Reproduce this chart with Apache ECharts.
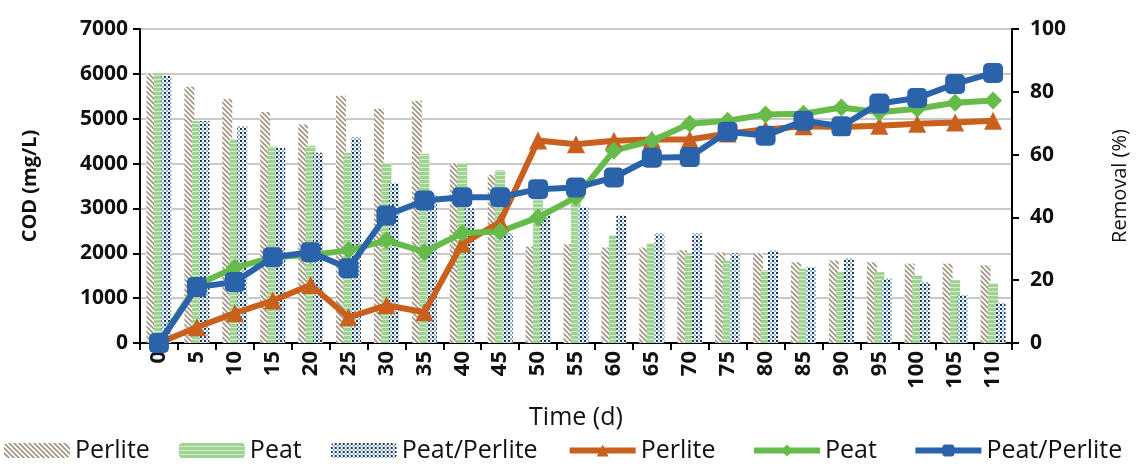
<!DOCTYPE html>
<html>
<head>
<meta charset="utf-8">
<script src="https://cdn.jsdelivr.net/npm/echarts@6/dist/echarts.min.js"></script>
<style>
  html, body { margin: 0; padding: 0; background: #fff; }
  #chart { width: 1141px; height: 469px; }
</style>
</head>
<body>
<div id="chart"></div>
<script>
// data
const days = ['0', '5', '10', '15', '20', '25', '30', '35', '40', '45', '50', '55',
  '60', '65', '70', '75', '80', '85', '90', '95', '100', '105', '110']

// COD (mg/L), bars
const codPerlite = [6000, 5710, 5440, 5150, 4870, 5510, 5220, 5400, 4000, 3750, 2150, 2200,
  2130, 2130, 2070, 2020, 2000, 1800, 1840, 1800, 1770, 1770, 1730]
const codPeat = [6000, 4950, 4550, 4380, 4400, 4240, 4020, 4220, 4020, 3850, 3180, 3350,
  2400, 2220, 2000, 1840, 1620, 1660, 1580, 1580, 1510, 1400, 1330]
const codPeatPerlite = [5950, 4950, 4840, 4350, 4240, 4580, 3560, 3300, 3000, 2440, 2950, 3020,
  2840, 2440, 2440, 2000, 2070, 1690, 1890, 1440, 1360, 1070, 890]

// Removal (%), lines
const remPerlite = [0, 5, 9.5, 13.5, 18.5, 8.2, 12, 9.8, 31.6, 38.5, 64.5, 63.3,
  64.4, 64.8, 64.8, 66.7, 68, 69, 68.8, 69.2, 69.8, 70.2, 70.8]
const remPeat = [0, 18.5, 24, 27.3, 28, 29.5, 32.7, 29, 35, 35.5, 40, 46.4,
  61.3, 64.4, 69.8, 70.8, 72.8, 73, 75, 73.5, 74.6, 76.5, 77.2]
const remPeatPerlite = [0, 17.8, 19.4, 27.3, 28.9, 23.8, 40.6, 45.4, 46.4, 46.4, 49, 49.5,
  52.7, 59, 59.2, 67.3, 66, 70.8, 69, 76.3, 78, 82.5, 86]

// bar fill patterns (Excel-like)
const makeTile = (w, h, draw) => {
  const c = document.createElement('canvas')
  c.width = w
  c.height = h
  const ctx = c.getContext('2d')
  ctx.fillStyle = '#fff'
  ctx.fillRect(0, 0, w, h)
  draw(ctx)
  return { image: c, repeat: 'repeat' }
}

const hatchFill = makeTile(5, 5, ctx => {
  ctx.strokeStyle = '#a39682'
  ctx.lineWidth = 1.7
  ctx.beginPath()
  ctx.moveTo(-1, -1); ctx.lineTo(6, 6)
  ctx.moveTo(-1, 4); ctx.lineTo(1, 6)
  ctx.moveTo(4, -1); ctx.lineTo(6, 1)
  ctx.stroke()
})

const stripeFill = makeTile(4, 4, ctx => {
  ctx.fillStyle = '#9fd391'
  ctx.fillRect(0, 0, 4, 3)
  ctx.fillStyle = '#d3ecca'
  ctx.fillRect(0, 3, 4, 1)
})

const dotFill = makeTile(4, 4, ctx => {
  ctx.fillStyle = '#1d3557'
  ctx.fillRect(0, 0, 2, 2)
  ctx.fillStyle = '#8ab8dc'
  ctx.fillRect(2, 2, 2, 2)
})

const orange = '#c9601d'
const green = '#66bb4a'
const blue = '#2b63ab'

const chart = echarts.init(document.getElementById('chart'))

const barSeries = (name, data, fill) => ({
  name,
  type: 'bar',
  yAxisIndex: 0,
  data,
  barWidth: 10,
  barGap: '-25%',
  itemStyle: { color: fill }
})

const lineSeries = (name, data, color, symbol, size) => ({
  name,
  type: 'line',
  yAxisIndex: 1,
  data,
  symbol,
  symbolSize: size,
  lineStyle: { width: 6, color },
  itemStyle: { color },
  z: 5
})

const tickFont = { fontFamily: 'Open Sans', fontSize: 21, fontWeight: 'bold', color: '#111' }

chart.setOption({
  animation: false,
  textStyle: { fontFamily: 'Open Sans' },
  grid: {
    left: 140,
    right: 129,
    top: 29,
    bottom: 126,
    show: true,
    borderColor: '#000',
    borderWidth: 2
  },
  legend: {
    top: 438,
    left: 4,
    width: 1137,
    padding: 0,
    itemWidth: 66,
    itemHeight: 15,
    itemGap: 29,
    lineStyle: { width: 6 },
    textStyle: { fontFamily: 'Open Sans', fontSize: 25, color: '#111' },
    data: ['Perlite', 'Peat', 'Peat/Perlite', 'Perlite ', 'Peat ', 'Peat/Perlite ']
  },
  xAxis: {
    type: 'category',
    data: days,
    name: 'Time (d)',
    nameLocation: 'middle',
    nameGap: 62,
    nameTextStyle: { fontSize: 25, color: '#111' },
    axisLine: { lineStyle: { color: '#000', width: 2 } },
    axisTick: { show: true, interval: 0, length: 7, lineStyle: { color: '#000', width: 2 } },
    axisLabel: { ...tickFont, fontSize: 22, rotate: 90, interval: 0, margin: 8 }
  },
  yAxis: [
    {
      type: 'value',
      min: 0,
      max: 7000,
      interval: 1000,
      name: 'COD (mg/L)',
      nameLocation: 'middle',
      nameGap: 100,
      nameTextStyle: { fontSize: 20, fontWeight: 'bold', color: '#111' },
      axisLine: { show: true, lineStyle: { color: '#000', width: 2 } },
      axisTick: { show: true, length: 7, lineStyle: { color: '#000', width: 2 } },
      axisLabel: { ...tickFont, margin: 12, formatter: v => String(v) },
      splitLine: { lineStyle: { color: '#c9c9c9', width: 2 } }
    },
    {
      type: 'value',
      min: 0,
      max: 100,
      interval: 20,
      name: 'Removal (%)',
      nameLocation: 'middle',
      nameGap: 98,
      nameRotate: 90,
      nameTextStyle: { fontSize: 20, color: '#111' },
      axisLine: { show: true, lineStyle: { color: '#000', width: 2 } },
      axisTick: { show: true, length: 7, lineStyle: { color: '#000', width: 2 } },
      axisLabel: { ...tickFont, margin: 18, formatter: v => String(v) },
      splitLine: { show: false }
    }
  ],
  series: [
    barSeries('Perlite', codPerlite, hatchFill),
    barSeries('Peat', codPeat, stripeFill),
    barSeries('Peat/Perlite', codPeatPerlite, dotFill),
    lineSeries('Perlite ', remPerlite, orange, 'triangle', 18),
    lineSeries('Peat ', remPeat, green, 'diamond', 18),
    lineSeries('Peat/Perlite ', remPeatPerlite, blue, 'roundRect', 20)
  ]
})
</script>
</body>
</html>
